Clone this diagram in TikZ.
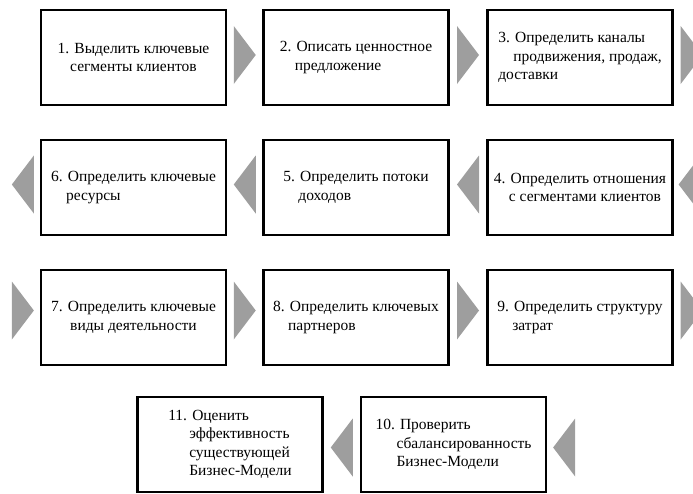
\documentclass[tikz,border=0pt]{standalone}
\usepackage{fontspec}
\setmainfont{Liberation Serif}
\usetikzlibrary{calc}
\definecolor{chevgray}{RGB}{158,158,158}
\newcommand{\chevR}[1]{\fill[chevgray] (#1) ++(-11,-29) -- ++(22,29) -- ++(-22,29) -- cycle;}
\newcommand{\chevL}[1]{\fill[chevgray] (#1) ++(11,-29) -- ++(-22,29) -- ++(22,29) -- cycle;}
\newcommand{\ind}{\hspace*{15pt}}

\begin{document}
\begin{tikzpicture}[x=1pt,y=-1pt]
\tikzset{stage/.style={draw=black,line width=2.3pt,minimum width=185pt,minimum height=95pt,inner sep=0pt,
  font=\fontsize{15.5}{18.5}\selectfont,align=left},
  stagec/.style={stage,align=center}}
\useasboundingbox (0,0) rectangle (693,493);
% row 1
\node[stagec] (b1) at (133.5,57.5) {1. Выделить ключевые\\сегменты клиентов};
\node[stage] (b2) at (356,57.5) {2. Описать ценностное\\\ind предложение};
\node[stage] (b3) at (580,57.5) {3. Определить каналы\\\ind продвижения, продаж,\\доставки};
% row 2
\node[stage] (b4) at (580,187.5) {4. Определить отношения\\\ind с сегментами клиентов};
\node[stage] (b5) at (356,187.5) {5. Определить потоки\\\ind доходов};
\node[stage] (b6) at (133.5,187.5) {6. Определить ключевые\\\ind ресурсы};
% row 3
\node[stagec] (b7) at (133.5,317.5) {7. Определить ключевые\\виды деятельности};
\node[stage] (b8) at (356,317.5) {8. Определить ключевых\\\ind партнеров};
\node[stage] (b9) at (580,317.5) {9. Определить структуру\\\ind затрат};
% row 4
\node[stage] (b10) at (453.5,444.5) {10. Проверить\\\ind\hspace*{6pt}сбалансированность\\\ind\hspace*{6pt}Бизнес-Модели};
\node[stage] (b11) at (230,444.5) {11. Оценить\\\ind\hspace*{6pt}эффективность\\\ind\hspace*{6pt}существующей\\\ind\hspace*{6pt}Бизнес-Модели};
% chevrons
\coordinate (c12) at ($(b1.east)!0.5!(b2.west)+(0,-2.5)$);
\coordinate (c23) at ($(b2.east)!0.5!(b3.west)+(0,-2.5)$);
\coordinate (c3) at ($(b3.east)+(18,-2.5)$);
\coordinate (c4) at ($(b4.east)+(16,-3)$);
\coordinate (c45) at ($(b5.east)!0.5!(b4.west)+(0,-3)$);
\coordinate (c56) at ($(b6.east)!0.5!(b5.west)+(0,-3)$);
\coordinate (c6) at ($(b6.west)+(-17,-3)$);
\coordinate (c7) at ($(b7.west)+(-17,-7)$);
\coordinate (c78) at ($(b7.east)!0.5!(b8.west)+(0,-7)$);
\coordinate (c89) at ($(b8.east)!0.5!(b9.west)+(0,-7)$);
\coordinate (c9) at ($(b9.east)+(18,-7)$);
\coordinate (c10) at ($(b10.east)+(17,3)$);
\coordinate (c1011) at ($(b11.east)!0.5!(b10.west)+(0,3)$);
\foreach \c in {c12,c23,c3,c7,c78,c89,c9} {\chevR{\c}}
\foreach \c in {c4,c45,c56,c6,c10,c1011} {\chevL{\c}}
\end{tikzpicture}
\end{document}
